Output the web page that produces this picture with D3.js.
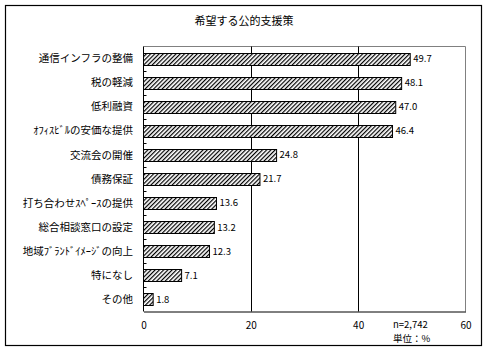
<html lang="ja">
<head>
<meta charset="UTF-8">
<title>希望する公的支援策</title>
<style>
  body { margin: 0; background: #fff; }
  text { font-family: "Noto Sans CJK JP", sans-serif; fill: #000; }
</style>
</head>
<body>
<div id="chart"></div>
<script src="https://d3js.org/d3.v7.min.js"></script>
<script>
const title = "希望する公的支援策";
const categories = ["通信インフラの整備", "税の軽減", "低利融資", "ｵﾌｨｽﾋﾞﾙの安価な提供", "交流会の開催",
  "債務保証", "打ち合わせｽﾍﾟｰｽの提供", "総合相談窓口の設定", "地域ﾌﾞﾗﾝﾄﾞｲﾒｰｼﾞの向上", "特になし", "その他"];
const values = [49.7, 48.1, 47.0, 46.4, 24.8, 21.7, 13.6, 13.2, 12.3, 7.1, 1.8];
const xTicks = [0, 20, 40, 60];
const notes = ["n=2,742", "単位：%"];

const W = 489, H = 352;
const plot = { left: 143.5, right: 465.5, top: 46.5, bottom: 311.5 };

const svg = d3.select("#chart").append("svg")
  .attr("width", W).attr("height", H);

// hatch pattern
const pat = svg.append("defs").append("pattern")
  .attr("id", "hatch")
  .attr("patternUnits", "userSpaceOnUse")
  .attr("width", 3).attr("height", 3)
  .attr("patternTransform", "rotate(45)");
pat.append("rect").attr("width", 3).attr("height", 3).attr("fill", "#fff");
pat.append("line").attr("x1", 0.6).attr("y1", 0).attr("x2", 0.6).attr("y2", 3)
  .attr("stroke", "#000").attr("stroke-width", 1.2);

// outer frame
svg.append("rect")
  .attr("x", 5.5).attr("y", 5.5).attr("width", 476).attr("height", 340)
  .attr("fill", "none").attr("stroke", "#000").attr("stroke-width", 1.2);

svg.append("text")
  .attr("x", 244).attr("y", 25)
  .attr("text-anchor", "middle")
  .style("font-size", "11px")
  .text(title);

const x = d3.scaleLinear().domain([0, 60]).range([plot.left, plot.right]);
const y = d3.scaleBand().domain(categories).range([plot.top, plot.bottom]).paddingInner(0.5).paddingOuter(0.25);

// top & right border (grey)
svg.append("path")
  .attr("d", `M${plot.left},${plot.top}H${plot.right}V${plot.bottom}`)
  .attr("fill", "none").attr("stroke", "#808080");

// gridlines
svg.selectAll(".grid")
  .data(xTicks.filter(d => d > 0 && d < 60))
  .enter().append("line")
  .attr("x1", d => Math.round(x(d)) + 0.5).attr("x2", d => Math.round(x(d)) + 0.5)
  .attr("y1", plot.top).attr("y2", plot.bottom)
  .attr("stroke", "#000");

// bars
svg.selectAll(".bar")
  .data(values)
  .enter().append("rect")
  .attr("x", x(0))
  .attr("y", (d, i) => Math.round(y(categories[i])) + 0.5)
  .attr("width", d => x(d) - x(0))
  .attr("height", Math.round(y.bandwidth()))
  .attr("fill", "url(#hatch)")
  .attr("stroke", "#000");

// value labels
svg.selectAll(".val")
  .data(values)
  .enter().append("text")
  .attr("x", d => x(d) + 3)
  .attr("y", (d, i) => y(categories[i]) + y.bandwidth() / 2)
  .attr("dy", "0.35em")
  .style("font-size", "9.5px")
  .text(d => d.toFixed(1));

// left axis with inward ticks at band edges
svg.append("line")
  .attr("x1", plot.left).attr("x2", plot.left)
  .attr("y1", plot.top).attr("y2", plot.bottom)
  .attr("stroke", "#000");
const step = (plot.bottom - plot.top) / categories.length;
svg.selectAll(".ytick")
  .data(d3.range(1, categories.length))
  .enter().append("line")
  .attr("x1", plot.left).attr("x2", plot.left + 3)
  .attr("y1", d => Math.round(plot.top + d * step) + 0.5)
  .attr("y2", d => Math.round(plot.top + d * step) + 0.5)
  .attr("stroke", "#000");

svg.selectAll(".cat")
  .data(categories)
  .enter().append("text")
  .attr("x", 133)
  .attr("y", d => y(d) + y.bandwidth() / 2)
  .attr("dy", "0.35em")
  .attr("text-anchor", "end")
  .style("font-size", "10.5px")
  .text(d => d);

// bottom axis
const xAxis = svg.append("g")
  .attr("transform", `translate(0,${plot.bottom})`)
  .call(d3.axisBottom(x).tickValues(xTicks).tickSize(0).tickPadding(10));
xAxis.select(".domain").attr("stroke", "#000");
xAxis.selectAll("text")
  .style("font-family", "\"Noto Sans CJK JP\", sans-serif")
  .style("font-size", "10px");

svg.selectAll(".note")
  .data(notes)
  .enter().append("text")
  .attr("x", 393)
  .attr("y", (d, i) => 328 + i * 14)
  .style("font-size", "9.5px")
  .text(d => d);
</script>
</body>
</html>
